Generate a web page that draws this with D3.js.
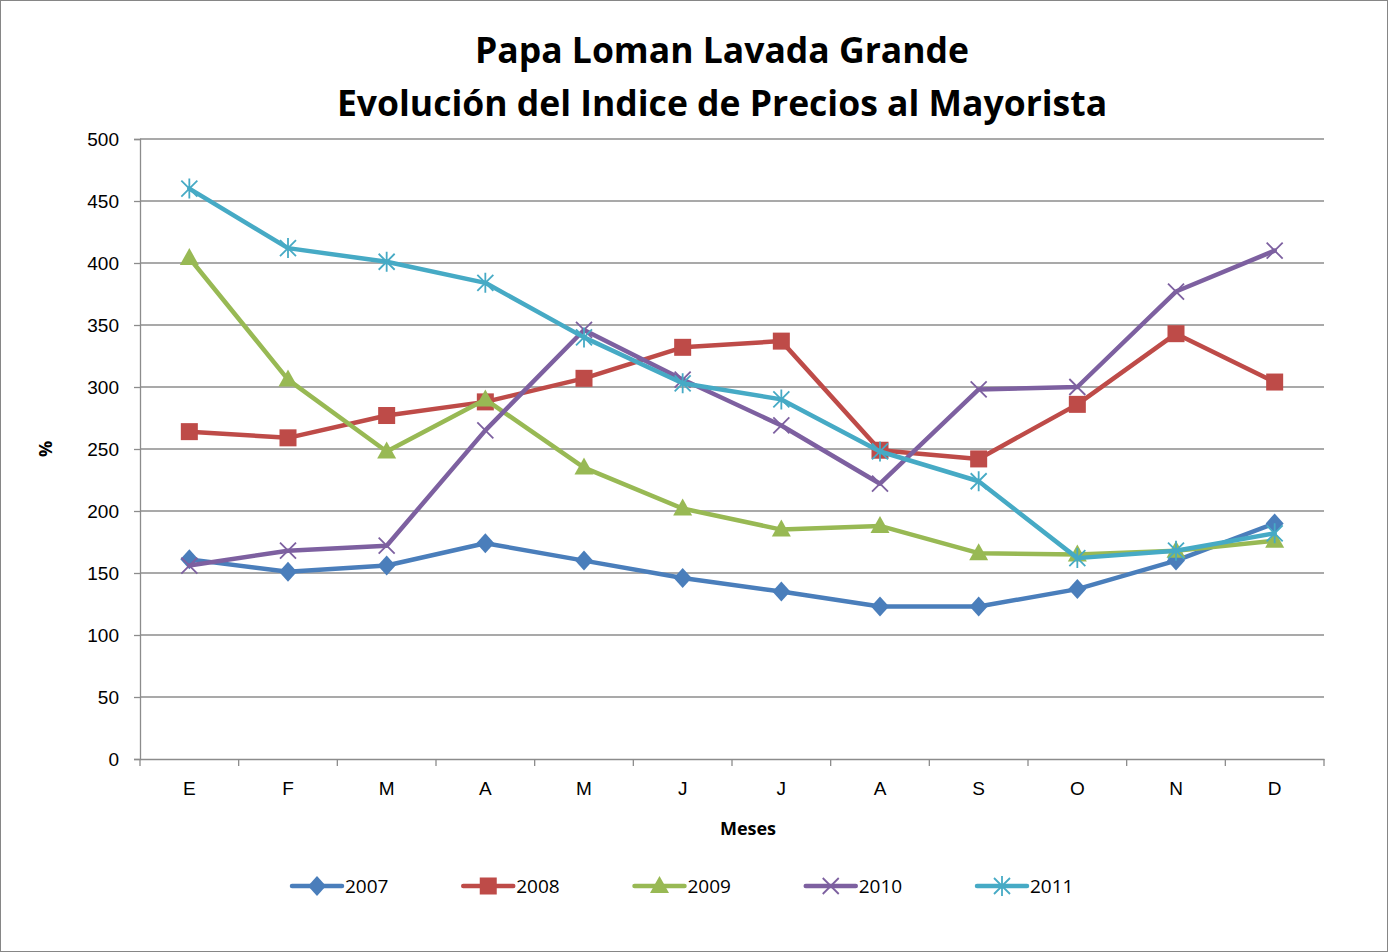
<!DOCTYPE html>
<html>
<head>
<meta charset="utf-8">
<script src="https://cdn.jsdelivr.net/npm/d3@7"></script>
<style>
  body { margin: 0; background: #fff; }
  svg { display: block; font-family: "Open Sans", "Liberation Sans", sans-serif; }
</style>
</head>
<body>
<svg id="chart" width="1388" height="952"></svg>
<script>
// ─── data ─────────────────────────────────────────────────────────────────────
const months = ["E", "F", "M", "A", "M", "J", "J", "A", "S", "O", "N", "D"];
const yTicks = [0, 50, 100, 150, 200, 250, 300, 350, 400, 450, 500];

const s2007 = [161, 151, 156, 174, 160, 146, 135, 123, 123, 137, 160, 190];
const s2008 = [264, 259, 277, 288, 307, 332, 337, 249, 242, 286, 343, 304];
const s2009 = [404, 306, 248, 290, 235, 202, 185, 188, 166, 165, 168, 176];
const s2010 = [156, 168, 172, 265, 346, 306, 269, 222, 298, 300, 377, 410];
const s2011 = [460, 412, 401, 384, 340, 303, 290, 248, 224, 162, 168, 182];

const series = [
  { name: "2007", values: s2007, color: "#4a7ebb", marker: "diamond" },
  { name: "2008", values: s2008, color: "#be4b48", marker: "square" },
  { name: "2009", values: s2009, color: "#98b954", marker: "triangle" },
  { name: "2010", values: s2010, color: "#7d60a0", marker: "x" },
  { name: "2011", values: s2011, color: "#46aac5", marker: "star" },
];

// ─── layout ───────────────────────────────────────────────────────────────────
const svg = d3.select("#chart");
const W = 1388, H = 952;
const plot = { left: 140, right: 1324, top: 139, bottom: 759 };

svg.append("rect")
  .attr("x", 0.5).attr("y", 0.5).attr("width", W - 1).attr("height", H - 1)
  .attr("fill", "#fff").attr("stroke", "#868686");

const x = d3.scaleBand()
  .domain(d3.range(months.length))
  .range([plot.left, plot.right]);

const y = d3.scaleLinear()
  .domain([0, 500])
  .range([plot.bottom, plot.top]);

// grid
svg.append("g")
  .selectAll("line")
  .data(yTicks.filter(d => d > 0))
  .join("line")
  .attr("x1", plot.left).attr("x2", plot.right)
  .attr("y1", d => y(d)).attr("y2", d => y(d))
  .attr("stroke", "#8c8c8c").attr("stroke-width", 1.3);

// y axis
const yAxis = svg.append("g")
  .attr("transform", `translate(${plot.left},0)`)
  .call(d3.axisLeft(y).tickValues(yTicks).tickSize(6).tickPadding(15));
yAxis.select(".domain").attr("stroke", "#8c8c8c").attr("stroke-width", 1.3);
yAxis.selectAll(".tick line").attr("stroke", "#8c8c8c").attr("stroke-width", 1.3);
yAxis.selectAll("text").attr("font-size", 19).attr("fill", "#000");

// x axis
const xAxis = svg.append("g")
  .attr("transform", `translate(0,${plot.bottom})`)
  .call(d3.axisBottom(x).tickFormat(i => months[i]).tickSize(0).tickPadding(23));
xAxis.select(".domain").attr("stroke", "#8c8c8c").attr("stroke-width", 1.3);
xAxis.selectAll("text").attr("font-size", 19).attr("fill", "#000");

svg.append("g")
  .selectAll("line")
  .data(d3.range(months.length + 1))
  .join("line")
  .attr("x1", i => plot.left + i * x.step()).attr("x2", i => plot.left + i * x.step())
  .attr("y1", plot.bottom).attr("y2", plot.bottom + 7)
  .attr("stroke", "#8c8c8c").attr("stroke-width", 1.3);

// titles
svg.append("text")
  .attr("x", 722).attr("y", 63).attr("text-anchor", "middle")
  .attr("font-size", 35.5).attr("font-weight", "bold")
  .text("Papa Loman Lavada Grande");
svg.append("text")
  .attr("x", 722).attr("y", 116).attr("text-anchor", "middle")
  .attr("font-size", 35.5).attr("font-weight", "bold")
  .text("Evolución del Indice de Precios al Mayorista");

svg.append("text")
  .attr("x", 748).attr("y", 835).attr("text-anchor", "middle")
  .attr("font-size", 18).attr("font-weight", "bold")
  .text("Meses");

svg.append("text")
  .attr("transform", "translate(52,449) rotate(-90)")
  .attr("text-anchor", "middle")
  .attr("font-size", 18).attr("font-weight", "bold")
  .text("%");

// ─── markers ──────────────────────────────────────────────────────────────────
function drawMarker(g, type, color, cx, cy) {
  if (type === "diamond") {
    g.append("path").attr("d", `M${cx},${cy - 10}L${cx + 9},${cy}L${cx},${cy + 10}L${cx - 9},${cy}Z`)
      .attr("fill", color);
  } else if (type === "square") {
    g.append("rect").attr("x", cx - 8.5).attr("y", cy - 8.5).attr("width", 17).attr("height", 17)
      .attr("fill", color);
  } else if (type === "triangle") {
    g.append("path").attr("d", `M${cx},${cy - 10}L${cx + 9.5},${cy + 7}L${cx - 9.5},${cy + 7}Z`)
      .attr("fill", color);
  } else if (type === "x") {
    g.append("path").attr("d", `M${cx - 8},${cy - 8}L${cx + 8},${cy + 8}M${cx - 8},${cy + 8}L${cx + 8},${cy - 8}`)
      .attr("stroke", color).attr("stroke-width", 1.8);
  } else if (type === "star") {
    g.append("path").attr("d", `M${cx - 8},${cy - 8}L${cx + 8},${cy + 8}M${cx - 8},${cy + 8}L${cx + 8},${cy - 8}M${cx},${cy - 10}L${cx},${cy + 10}`)
      .attr("stroke", color).attr("stroke-width", 1.8);
  }
}

// ─── lines ────────────────────────────────────────────────────────────────────
const line = d3.line()
  .x((d, i) => x(i) + x.bandwidth() / 2)
  .y(d => y(d));

series.forEach(s => {
  const g = svg.append("g");
  g.append("path")
    .attr("d", line(s.values))
    .attr("fill", "none")
    .attr("stroke", s.color)
    .attr("stroke-width", 4.5)
    .attr("stroke-linejoin", "round")
    .attr("stroke-linecap", "round");
  s.values.forEach((v, i) => drawMarker(g, s.marker, s.color, x(i) + x.bandwidth() / 2, y(v)));
});

// ─── legend ───────────────────────────────────────────────────────────────────
const legendX = d3.scalePoint().domain(series.map(s => s.name)).range([292, 977]);
series.forEach(s => {
  const lx = legendX(s.name), ly = 886;
  const g = svg.append("g");
  g.append("line")
    .attr("x1", lx).attr("x2", lx + 50).attr("y1", ly).attr("y2", ly)
    .attr("stroke", s.color).attr("stroke-width", 4.5).attr("stroke-linecap", "round");
  drawMarker(g, s.marker, s.color, lx + 25, ly);
  g.append("text")
    .attr("x", lx + 53).attr("y", ly + 7)
    .attr("font-size", 19)
    .text(s.name);
});
</script>
</body>
</html>
